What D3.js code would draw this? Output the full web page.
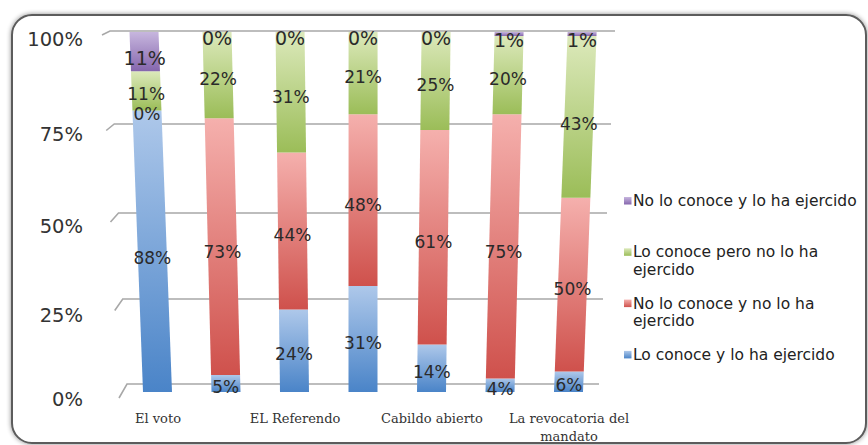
<!DOCTYPE html>
<html>
<head>
<meta charset="utf-8">
<script src="https://cdn.jsdelivr.net/npm/d3@7"></script>
<style>
  html, body { margin: 0; padding: 0; background: #ffffff; }
  svg { display: block; }
</style>
</head>
<body>
<svg id="chart" width="868" height="445"></svg>
<script>
// ---------------- DATA ----------------
const categories = ["El voto", "La consulta popular", "EL Referendo", "La iniciativa popular", "Cabildo abierto", "El plebiscito", "La revocatoria del mandato"];
const shownCategories = ["El voto", "EL Referendo", "Cabildo abierto", "La revocatoria del mandato"];
const seriesNames = ["Lo conoce y lo ha ejercido", "No lo conoce y no lo ha ejercido", "Lo conoce pero no lo ha ejercido", "No lo conoce y lo ha ejercido"];
const conoceEjercido      = [88, 5, 24, 31, 14, 4, 6];
const noConoceNoEjercido  = [0, 73, 44, 48, 61, 75, 50];
const conoceNoEjercido    = [11, 22, 31, 21, 25, 20, 43];
const noConoceEjercido    = [11, 0, 0, 0, 0, 1, 1];
const yTicks = [0, 0.25, 0.5, 0.75, 1];
const yTickLabels = ["0%", "25%", "50%", "75%", "100%"];

// ---------------- STYLE ----------------
const colors = [
  {top: "#aec8ea", bottom: "#4a84c8"},
  {top: "#f5b0ad", bottom: "#cf514c"},
  {top: "#dce9bb", bottom: "#9bbd58"},
  {top: "#c7b6de", bottom: "#8566ad"}
];

const svg = d3.select("#chart");
const defs = svg.append("defs");

const shadow = defs.append("filter").attr("id", "shadow")
  .attr("x", "-5%").attr("y", "-5%").attr("width", "110%").attr("height", "110%");
shadow.append("feGaussianBlur").attr("in", "SourceAlpha").attr("stdDeviation", 2.5).attr("result", "b");
shadow.append("feComponentTransfer").attr("in", "b").attr("result", "s")
  .append("feFuncA").attr("type", "linear").attr("slope", 0.45);
const merge = shadow.append("feMerge");
merge.append("feMergeNode").attr("in", "s");
merge.append("feMergeNode").attr("in", "SourceGraphic");

colors.forEach((c, i) => {
  const g = defs.append("linearGradient").attr("id", "grad" + i)
    .attr("x1", 0).attr("y1", 0).attr("x2", 0).attr("y2", 1);
  g.append("stop").attr("offset", "0%").attr("stop-color", c.top);
  g.append("stop").attr("offset", "100%").attr("stop-color", c.bottom);
});

// chart frame
svg.append("rect")
  .attr("x", 12).attr("y", 15).attr("width", 854).attr("height", 428)
  .attr("rx", 20).attr("ry", 20)
  .attr("fill", "#ffffff").attr("stroke", "#5c5c5c").attr("stroke-width", 2)
  .attr("filter", "url(#shadow)");

// ---------------- SCALES ----------------
const x = d3.scalePoint().domain(categories).range([123.25, 602.75]).padding(0.5);
const barWidth = 29;
const vanishX = 362;
const tiltFactor = 0.066;
const yBar = d3.scaleLinear().domain(yTicks).range([392, 307, 219, 130, 32]);
const yGrid = d3.scaleLinear().domain(yTicks).range([384, 299, 213, 124, 31]);
const yLabel = d3.scaleLinear().domain(yTicks).range([399.5, 315.5, 226, 134.5, 39.5]);
const gridLeft = d3.scaleLinear().domain([0, 1]).range([127, 110]);
const gridRight = d3.scaleLinear().domain([0, 1]).range([599, 615]);

// perspective lean of the bars
function xAt(cx, y) {
  const t = (yBar(0) - y) / (yBar(0) - yBar(1));
  return cx + (cx - vanishX) * tiltFactor * t;
}

// ---------------- GRID ----------------
svg.append("g").selectAll("path").data(yTicks).join("path")
  .attr("d", v => {
    const y = yGrid(v), xl = gridLeft(v);
    return `M${xl - 8},${y + 4 + 10 * (1 - v)} L${xl},${y} L${gridRight(v)},${y}`;
  })
  .attr("fill", "none").attr("stroke", "#a8a8a8").attr("stroke-width", 1.6);

svg.append("g").selectAll("text").data(yTicks).join("text")
  .attr("x", 83).attr("y", v => yLabel(v))
  .attr("text-anchor", "end").attr("dominant-baseline", "central")
  .attr("font-family", "DejaVu Sans, Verdana, sans-serif").attr("font-size", 19.5)
  .attr("fill", "#333")
  .text((v, i) => yTickLabels[i]);

// ---------------- STACK ----------------
const rows = categories.map((c, i) => ({
  cat: c,
  [seriesNames[0]]: conoceEjercido[i],
  [seriesNames[1]]: noConoceNoEjercido[i],
  [seriesNames[2]]: conoceNoEjercido[i],
  [seriesNames[3]]: noConoceEjercido[i]
}));
const stacked = d3.stack().keys(seriesNames).offset(d3.stackOffsetExpand)(rows);

const barsG = svg.append("g");
stacked.forEach((layer, si) => {
  barsG.append("g").selectAll("path").data(layer).join("path")
    .attr("d", d => {
      const cx = x(d.data.cat);
      const y0 = yBar(d[0]), y1 = yBar(d[1]);
      const h = barWidth / 2;
      return `M${xAt(cx, y0) - h},${y0} L${xAt(cx, y0) + h},${y0} L${xAt(cx, y1) + h},${y1} L${xAt(cx, y1) - h},${y1} Z`;
    })
    .attr("fill", `url(#grad${si})`);
});

// ---------------- VALUE LABELS ----------------
const labelsG = svg.append("g");
stacked.forEach((layer, si) => {
  const isTop = si === seriesNames.length - 1;
  labelsG.append("g").selectAll("text").data(layer).join("text")
    .attr("x", d => xAt(x(d.data.cat), yBar((d[0] + d[1]) / 2)))
    .attr("y", d => yBar((d[0] + d[1]) / 2) + (isTop ? 6 : 3.5))
    .attr("text-anchor", "middle").attr("dominant-baseline", "central")
    .attr("font-family", "DejaVu Sans, Verdana, sans-serif")
    .attr("font-size", isTop ? 19 : 17)
    .attr("fill", "#2a2a2a")
    .text(d => d.data[layer.key] + "%");
});

// ---------------- CATEGORY AXIS ----------------
const xAxis = d3.axisBottom(x).tickValues(shownCategories).tickSize(0).tickPadding(3);
const axisG = svg.append("g").attr("transform", "translate(0,411)").call(xAxis);
axisG.select(".domain").remove();
axisG.selectAll("text")
  .attr("font-family", "DejaVu Serif, Cambria, serif").attr("font-size", 13).attr("fill", "#333")
  .each(function() { wrap(d3.select(this), 128, 17.5); });

function wrap(text, width, lineHeight) {
  const words = text.text().split(/\s+/);
  const y = text.attr("y");
  const dy = text.attr("dy") || "0.71em";
  text.text(null);
  let line = [], lineNo = 0;
  let tspan = text.append("tspan").attr("x", 0).attr("y", y).attr("dy", dy);
  words.forEach(w => {
    line.push(w);
    tspan.text(line.join(" "));
    if (tspan.node().getComputedTextLength() > width && line.length > 1) {
      line.pop();
      tspan.text(line.join(" "));
      line = [w];
      lineNo++;
      tspan = text.append("tspan").attr("x", 0).attr("dy", lineHeight).text(w);
    }
  });
}

// ---------------- LEGEND ----------------
const legendOrder = seriesNames.map((n, i) => i).reverse();
const legendG = svg.append("g");
const legendRows = legendG.selectAll("g").data(legendOrder).join("g")
  .attr("transform", (si, k) => `translate(624,${201 + k * 51.3})`);
legendRows.append("rect")
  .attr("x", 0).attr("y", -4).attr("width", 7.5).attr("height", 7.5)
  .attr("fill", si => `url(#grad${si})`);
legendRows.append("text")
  .attr("x", 9).attr("y", 0)
  .attr("dominant-baseline", "central")
  .attr("font-family", "DejaVu Sans, Verdana, sans-serif").attr("font-size", 15.5)
  .attr("fill", "#222")
  .each(function(si) {
    const t = d3.select(this);
    const words = seriesNames[si].split(" ");
    let line = [];
    let tspan = t.append("tspan").attr("x", 9).attr("dy", 0);
    words.forEach(w => {
      line.push(w);
      tspan.text(line.join(" "));
      if (tspan.node().getComputedTextLength() > 228 && line.length > 1) {
        line.pop();
        tspan.text(line.join(" "));
        line = [w];
        tspan = t.append("tspan").attr("x", 9).attr("dy", 17.5).text(w);
      }
    });
  });
</script>
</body>
</html>
